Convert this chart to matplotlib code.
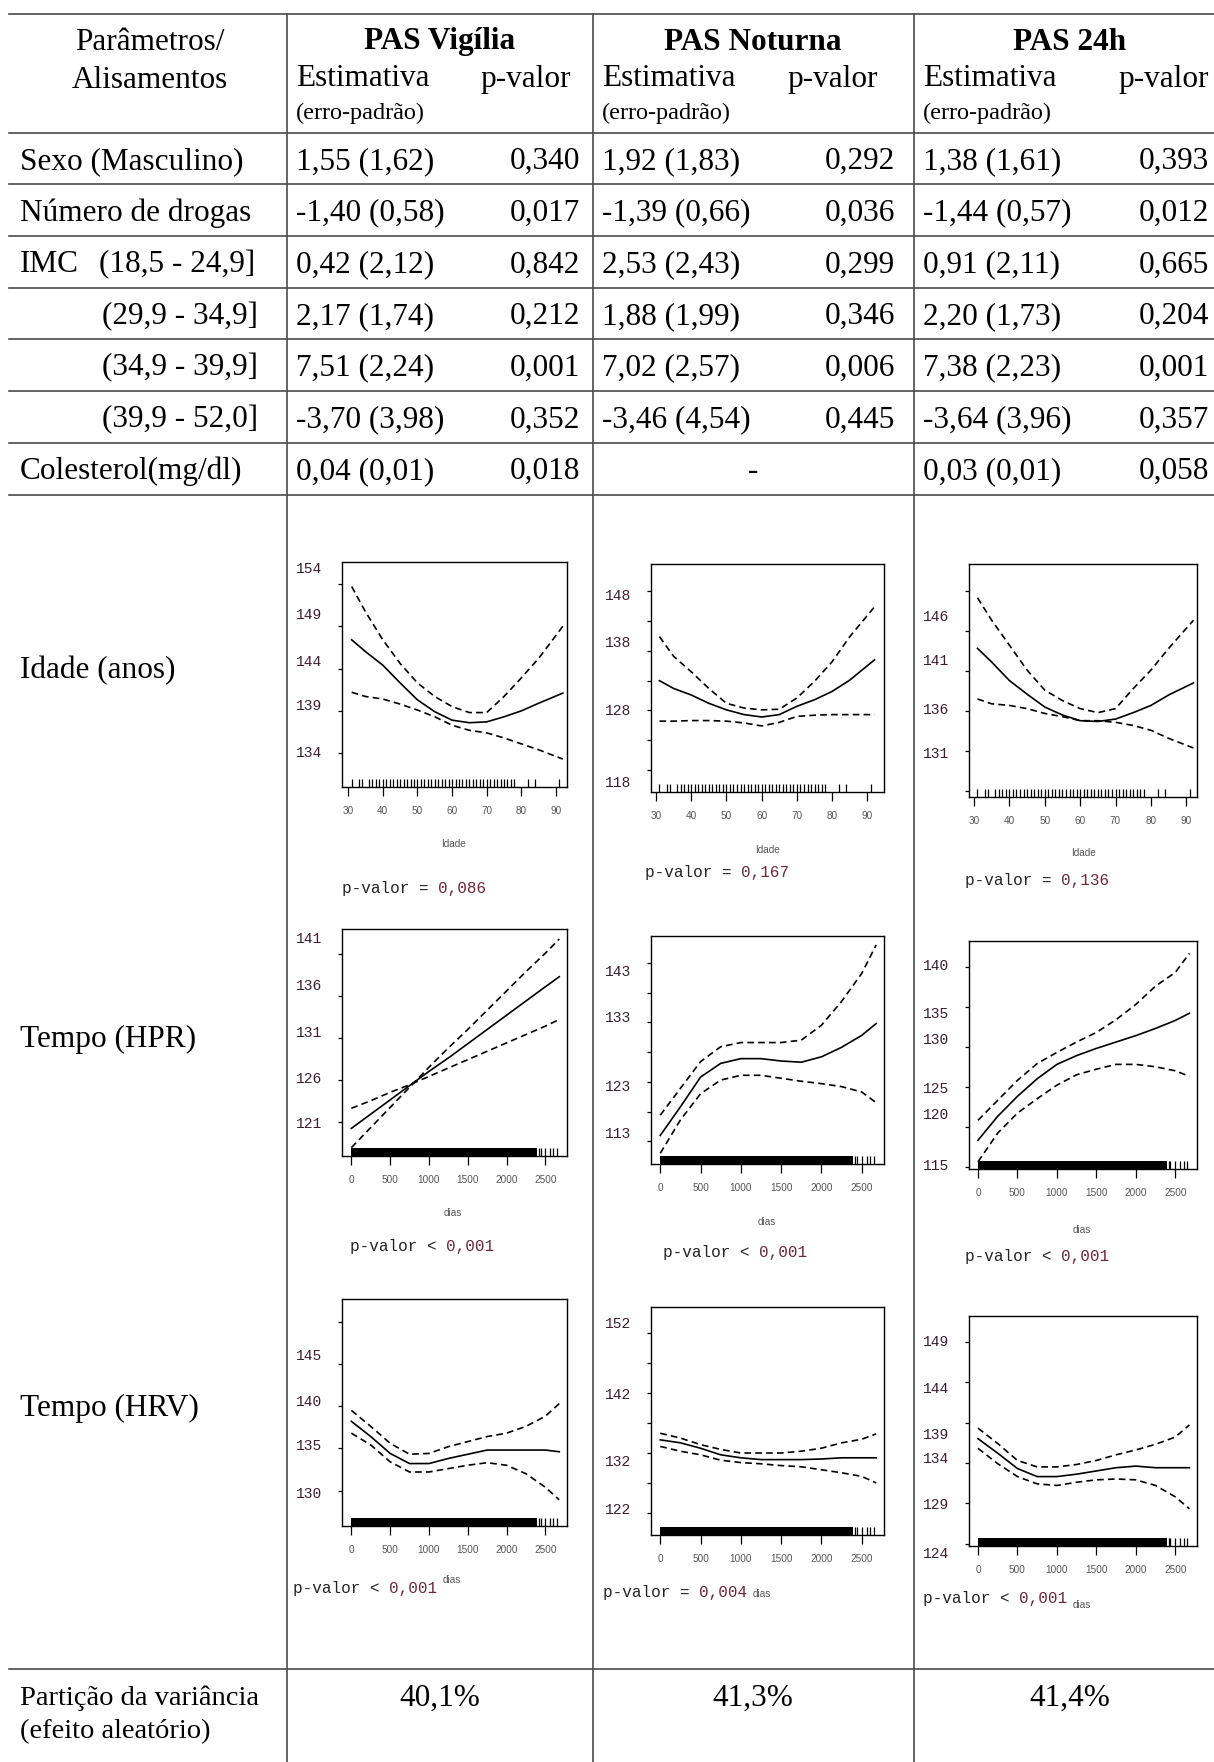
import matplotlib
matplotlib.use('Agg')
import matplotlib.pyplot as plt
import matplotlib.transforms as mtransforms
from matplotlib.lines import Line2D

W, H = 1214, 1762

# ---- table values ----
outcomes = ['PAS Vigília', 'PAS Noturna', 'PAS 24h']
param_labels = ['Sexo (Masculino)', 'Número de drogas', 'IMC', '(29,9 - 34,9]',
                '(34,9 - 39,9]', '(39,9 - 52,0]', 'Colesterol(mg/dl)']
imc_first = '(18,5 - 24,9]'
est_vigilia = ['1,55 (1,62)', '-1,40 (0,58)', '0,42 (2,12)', '2,17 (1,74)',
               '7,51 (2,24)', '-3,70 (3,98)', '0,04 (0,01)']
p_vigilia = ['0,340', '0,017', '0,842', '0,212', '0,001', '0,352', '0,018']
est_noturna = ['1,92 (1,83)', '-1,39 (0,66)', '2,53 (2,43)', '1,88 (1,99)',
               '7,02 (2,57)', '-3,46 (4,54)', '-']
p_noturna = ['0,292', '0,036', '0,299', '0,346', '0,006', '0,445', '']
est_24h = ['1,38 (1,61)', '-1,44 (0,57)', '0,91 (2,11)', '2,20 (1,73)',
           '7,38 (2,23)', '-3,64 (3,96)', '0,03 (0,01)']
p_24h = ['0,393', '0,012', '0,665', '0,204', '0,001', '0,357', '0,058']
smooth_labels = ['Idade (anos)', 'Tempo (HPR)', 'Tempo (HRV)']
variance_part = ['40,1%', '41,3%', '41,4%']

# ---- smooth curves ----
idade_x = [31, 35, 40, 45, 50, 55, 60, 65, 70, 75, 80, 85, 92]
vig_idade_fit = [147.4, 146.0, 144.4, 142.3, 140.3, 138.9, 137.9, 137.6, 137.7, 138.3, 139.0, 139.9, 141.1]
vig_idade_up = [153.7, 150.7, 147.4, 144.6, 142.3, 140.7, 139.5, 138.8, 138.8, 140.7, 142.9, 145.2, 149.0]
vig_idade_lo = [141.2, 140.7, 140.4, 139.8, 139.1, 138.3, 137.3, 136.7, 136.4, 135.8, 135.1, 134.4, 133.3]
not_idade_fit = [133.0, 131.7, 130.6, 129.2, 128.1, 127.3, 126.9, 127.3, 128.7, 129.8, 131.2, 133.1, 136.5]
not_idade_up = [140.4, 137.1, 134.5, 131.7, 129.2, 128.4, 128.1, 128.2, 130.1, 132.9, 136.2, 140.4, 145.4]
not_idade_lo = [126.2, 126.2, 126.3, 126.3, 126.2, 125.9, 125.4, 126.0, 127.0, 127.2, 127.3, 127.3, 127.3]
h24_idade_fit = [143.8, 142.1, 139.8, 138.1, 136.5, 135.5, 134.8, 134.7, 135.0, 135.8, 136.7, 138.0, 139.5]
h24_idade_up = [150.1, 147.3, 144.2, 141.1, 138.6, 137.3, 136.3, 135.8, 136.3, 138.8, 141.1, 143.8, 147.3]
h24_idade_lo = [137.5, 136.9, 136.7, 136.3, 135.7, 135.3, 134.8, 134.8, 134.6, 134.2, 133.6, 132.6, 131.4]

dias_x = [0, 250, 500, 750, 1000, 1250, 1500, 1750, 2000, 2250, 2500, 2680]
vig_hpr_fit = [120.2, 121.9, 123.6, 125.3, 127.0, 128.6, 130.3, 132.0, 133.7, 135.4, 137.1, 138.3]
vig_hpr_up = [117.9, 120.3, 122.7, 125.1, 127.5, 129.8, 132.0, 134.3, 136.6, 138.9, 141.1, 142.8]
vig_hpr_lo = [122.6, 123.5, 124.5, 125.4, 126.4, 127.4, 128.4, 129.4, 130.4, 131.4, 132.4, 133.2]
not_hpr_fit = [114.0, 118.8, 123.8, 126.1, 126.9, 126.9, 126.5, 126.3, 127.2, 128.8, 130.8, 132.8]
not_hpr_up = [117.4, 121.9, 126.4, 128.9, 129.6, 129.6, 129.6, 130.0, 132.5, 136.5, 141.2, 146.0]
not_hpr_lo = [111.0, 116.6, 121.0, 123.3, 124.1, 124.1, 123.6, 123.1, 122.7, 122.2, 121.3, 119.5]
h24_hpr_fit = [118.3, 121.3, 123.8, 126.0, 127.8, 128.9, 129.8, 130.6, 131.4, 132.3, 133.3, 134.2]
h24_hpr_up = [120.8, 123.3, 125.8, 127.9, 129.3, 130.6, 131.8, 133.4, 135.3, 137.6, 139.3, 141.7]
h24_hpr_lo = [115.6, 119.2, 121.7, 123.5, 125.2, 126.5, 127.2, 127.8, 127.8, 127.5, 127.0, 126.3]
vig_hrv_fit = [138.2, 136.4, 134.4, 133.2, 133.2, 133.8, 134.3, 134.8, 134.8, 134.8, 134.8, 134.6]
vig_hrv_up = [139.5, 137.6, 135.6, 134.3, 134.4, 135.2, 135.8, 136.4, 136.8, 137.6, 138.8, 140.3]
vig_hrv_lo = [136.8, 135.4, 133.4, 132.2, 132.2, 132.6, 133.0, 133.3, 133.0, 132.0, 130.4, 128.9]
not_hrv_fit = [134.2, 133.7, 132.8, 131.7, 131.2, 130.9, 130.9, 130.9, 131.0, 131.2, 131.2, 131.2]
not_hrv_up = [135.3, 134.5, 133.4, 132.6, 132.0, 132.0, 132.0, 132.3, 132.8, 133.7, 134.3, 135.2]
not_hrv_lo = [133.1, 132.3, 131.7, 130.8, 130.4, 130.2, 129.9, 129.7, 129.2, 128.7, 128.1, 127.0]
h24_hrv_fit = [137.0, 135.2, 133.3, 132.3, 132.3, 132.6, 133.0, 133.4, 133.6, 133.4, 133.4, 133.4]
h24_hrv_up = [138.3, 136.4, 134.3, 133.5, 133.5, 133.8, 134.3, 135.0, 135.6, 136.3, 137.2, 138.7]
h24_hrv_lo = [135.8, 133.9, 132.3, 131.4, 131.2, 131.6, 131.9, 132.0, 131.9, 131.2, 129.8, 128.3]

# rug marks
rug_idade = [31, 33, 34, 36, 37, 38, 39, 40, 41, 42, 43, 44, 45, 46, 47, 48, 49, 50, 51, 52,
             53, 54, 55, 56, 57, 58, 59, 60, 61, 62, 63, 64, 65, 66, 67, 68, 69, 70, 71, 72,
             73, 74, 75, 76, 77, 78, 82, 84, 91]
rug_dias_dense = (0, 2390)
rug_dias_sparse = [2415, 2440, 2500, 2565, 2605, 2650]

idade_ticks = [30, 40, 50, 60, 70, 80, 90]
dias_ticks = [0, 500, 1000, 1500, 2000, 2500]

p_smooth = [('=', '0,086'), ('=', '0,167'), ('=', '0,136'),
            ('<', '0,001'), ('<', '0,001'), ('<', '0,001'),
            ('<', '0,001'), ('=', '0,004'), ('<', '0,001')]

fig = plt.figure(figsize=(W / 100, H / 100), dpi=100)
serif = 'Liberation Serif'
mono = 'Liberation Mono'
sans = 'Liberation Sans'
line_c = '#4a4a4a'
tick_c = '#3c1f2e'
pval_c = '#6a2a3a'
dy_txt = 3  # small downward nudge so glyphs sit like the reference


def fx(px):
    return px / W


def fy(py):
    return 1 - py / H


def txt(x, y, s, **kw):
    kw.setdefault('family', serif)
    kw.setdefault('va', 'center')
    fig.text(fx(x), fy(y + dy_txt), s, **kw)


# table rules
for y in [13.5, 132.6, 184, 236, 288, 339, 391, 443, 494.6, 1669]:
    fig.add_artist(Line2D([fx(9), fx(W)], [fy(y), fy(y)], color=line_c, lw=1.2))
for x in [287, 593, 914]:
    fig.add_artist(Line2D([fx(x), fx(x)], [fy(13.5), fy(H)], color=line_c, lw=1.2))

# header
fs = 22.5
txt(150, 39, 'Parâmetros/', ha='center', fontsize=fs)
txt(150, 77, 'Alisamentos', ha='center', fontsize=fs)
col_center = [440, 753, 1070]
est_left = [296, 602, 923]
p_right = [580, 895, 1209]
phead_right = [571, 878, 1209]
for i, name in enumerate(outcomes):
    txt(col_center[i], 39, name, ha='center', fontsize=fs, weight='bold')
    txt(est_left[i], 76, 'Estimativa', ha='left', fontsize=fs)
    txt(phead_right[i], 76, 'p-valor', ha='right', fontsize=fs)
    txt(est_left[i], 110, '(erro-padrão)', ha='left', fontsize=17.5)

# parameter rows
row_y = [158.3, 210, 262, 313.5, 365, 417, 468.5]
for r, lab in enumerate(param_labels):
    if lab.startswith('('):
        txt(258, row_y[r], lab, ha='right', fontsize=fs)
    else:
        txt(20, row_y[r], lab, ha='left', fontsize=fs)
txt(255, row_y[2], imc_first, ha='right', fontsize=fs)

for i, (est, pv) in enumerate([(est_vigilia, p_vigilia), (est_noturna, p_noturna), (est_24h, p_24h)]):
    for r in range(len(est)):
        if est[r] == '-':
            txt(col_center[i], row_y[r], '-', ha='center', fontsize=fs)
        else:
            txt(est_left[i], row_y[r], est[r], ha='left', fontsize=fs)
        if pv[r]:
            txt(p_right[i], row_y[r], pv[r], ha='right', fontsize=fs)

# smooth row labels
for lab, y in zip(smooth_labels, [668, 1036, 1405]):
    txt(20, y, lab, ha='left', fontsize=fs)

# variance partition
fs_var = 20.5
txt(20, 1695, 'Partição da variância', ha='left', fontsize=fs_var)
txt(20, 1729, '(efeito aleatório)', ha='left', fontsize=fs_var)
for i, v in enumerate(variance_part):
    txt(col_center[i], 1695, v, ha='center', fontsize=fs)

# ---- small smooth plots ----
panels = [
    dict(box=(342, 562, 567, 787), x=idade_x, fit=vig_idade_fit, up=vig_idade_up, lo=vig_idade_lo,
         xlim=(28.2, 93.2), ylim=(130.0, 156.6), yt=[134, 139, 144, 149, 154],
         yl=['134', '139', '144', '149', '154'], ysh=[0, 5, 7, 11, 15],
         xlab=(454, 844), p=(342, 889)),
    dict(box=(651, 564, 884, 792), x=idade_x, fit=not_idade_fit, up=not_idade_up, lo=not_idade_lo,
         xlim=(28.6, 94.7), ylim=(114.3, 152.6), yt=[118, 123, 128, 133, 138, 143, 148],
         yl=['118', '', '128', '', '138', '', '148'], ysh=[-13, 0, -1, 0, 8, 0, -5],
         xlab=(767, 850), p=(645, 873)),
    dict(box=(969, 564, 1197, 797), x=idade_x, fit=h24_idade_fit, up=h24_idade_up, lo=h24_idade_lo,
         xlim=(28.6, 93.0), ylim=(125.3, 154.3), yt=[126, 131, 136, 141, 146, 151],
         yl=['', '131', '136', '141', '146', ''], ysh=[0, -3, 1, 10, 14, 0],
         xlab=(1083, 853), p=(965, 880)),
    dict(box=(342, 929, 567, 1156), x=dias_x, fit=vig_hpr_fit, up=vig_hpr_up, lo=vig_hpr_lo,
         xlim=(-121, 2780), ylim=(116.9, 144.0), yt=[121, 126, 131, 136, 141],
         yl=['121', '126', '131', '136', '141'], ysh=[-2, 1, 5, 10, 15],
         xlab=(453, 1213), p=(350, 1247)),
    dict(box=(651, 936, 884, 1164), x=dias_x, fit=not_hpr_fit, up=not_hpr_up, lo=not_hpr_lo,
         xlim=(-115, 2777), ylim=(109.2, 147.5), yt=[113, 118, 123, 128, 133, 138, 143],
         yl=['113', '', '123', '', '133', '', '143'], ysh=[7, 0, -5, 0, 4, 0, -9],
         xlab=(767, 1222), p=(663, 1253)),
    dict(box=(969, 941, 1197, 1169), x=dias_x, fit=h24_hpr_fit, up=h24_hpr_up, lo=h24_hpr_lo,
         xlim=(-114, 2776), ylim=(114.7, 143.25), yt=[115, 120, 125, 130, 135, 140],
         yl=['115', '120', '125', '130', '135', '140'], ysh=[1, 12, -2, 7, -7, 1],
         xlab=(1082, 1230), p=(965, 1257)),
    dict(box=(342, 1299, 567, 1526), x=dias_x, fit=vig_hrv_fit, up=vig_hrv_up, lo=vig_hrv_lo,
         xlim=(-121, 2780), ylim=(125.8, 152.7), yt=[130, 135, 140, 145, 150],
         yl=['130', '135', '140', '145', ''], ysh=[-3, 2, 4, 8, 0],
         xlab=(453, 1580), p=(293, 1588)),
    dict(box=(651, 1307, 884, 1535), x=dias_x, fit=not_hrv_fit, up=not_hrv_up, lo=not_hrv_lo,
         xlim=(-115, 2777), ylim=(118.3, 156.4), yt=[122, 127, 132, 137, 142, 147, 152],
         yl=['122', '', '132', '', '142', '', '152'], ysh=[3, 0, -9, 0, -2, 0, 9],
         xlab=(766, 1594), p=(603, 1593)),
    dict(box=(969, 1316, 1197, 1546), x=dias_x, fit=h24_hrv_fit, up=h24_hrv_up, lo=h24_hrv_lo,
         xlim=(-114, 2776), ylim=(123.7, 152.2), yt=[124, 129, 134, 139, 144, 149],
         yl=['124', '129', '134', '139', '144', '149'], ysh=[-10, -2, 4, -12, -7, 0],
         xlab=(1082, 1605), p=(923, 1598)),
]

dash = (0, (4, 2.5))
mono_fs = 11.5
char_w = 0.6 * mono_fs * 100 / 72

for k, pn in enumerate(panels):
    l, t, r, b = pn['box']
    ax = fig.add_axes([fx(l), fy(b), (r - l) / W, (b - t) / H])
    ax.plot(pn['x'], pn['fit'], color='black', lw=1.2)
    ax.plot(pn['x'], pn['up'], color='black', lw=1.2, ls=dash)
    ax.plot(pn['x'], pn['lo'], color='black', lw=1.2, ls=dash)

    rug_h = 8 / (b - t)
    is_age = k < 3
    if is_age:
        ax.vlines(rug_idade, 0, rug_h, transform=ax.get_xaxis_transform(), color='black', lw=0.9)
        xt = idade_ticks
    else:
        ax.axvspan(rug_dias_dense[0], rug_dias_dense[1], ymin=0, ymax=rug_h, color='black', lw=0)
        ax.vlines(rug_dias_sparse, 0, rug_h, transform=ax.get_xaxis_transform(), color='black', lw=0.9)
        xt = dias_ticks

    ax.set_xlim(*pn['xlim'])
    ax.set_ylim(*pn['ylim'])
    ax.set_xticks(xt)
    ax.set_xticklabels([str(v) for v in xt], fontsize=7.2, color='#555555', family=sans)
    ax.tick_params(axis='x', length=6.5, width=0.9, pad=7.5)
    ax.set_yticks(pn['yt'])
    ax.set_yticklabels([])
    ax.tick_params(axis='y', length=3, width=0.9)
    for sp in ax.spines.values():
        sp.set_linewidth(1.0)
    for v, s, dy in zip(pn['yt'], pn['yl'], pn['ysh']):
        if s:
            tr = ax.get_yaxis_transform() + mtransforms.ScaledTranslation(-0.195, dy / 100, fig.dpi_scale_trans)
            ax.text(0, v, s, transform=tr, ha='right', va='center', family=mono,
                    fontsize=10.5, color=tick_c)

    # axis title
    xl_x, xl_y = pn['xlab']
    if k < 6:
        fig.text(fx(xl_x), fy(xl_y), 'Idade' if is_age else 'dias', ha='center', va='center',
                 family=sans, fontsize=7.2, color='#555555')
    # p-value under the plot
    px, py = pn['p']
    op, val = p_smooth[k]
    prefix = 'p-valor ' + op + ' '
    fig.text(fx(px), fy(py), prefix, ha='left', va='center', family=mono, fontsize=mono_fs, color='#222222')
    fig.text(fx(px + len(prefix) * char_w), fy(py), val, ha='left', va='center', family=mono,
             fontsize=mono_fs, color=pval_c)
    if k >= 6:
        fig.text(fx(px + (len(prefix) + len(val)) * char_w + 6), fy(xl_y), 'dias', ha='left',
                 va='center', family=sans, fontsize=7.2, color='#555555')

fig.savefig('out.png', dpi=100)
